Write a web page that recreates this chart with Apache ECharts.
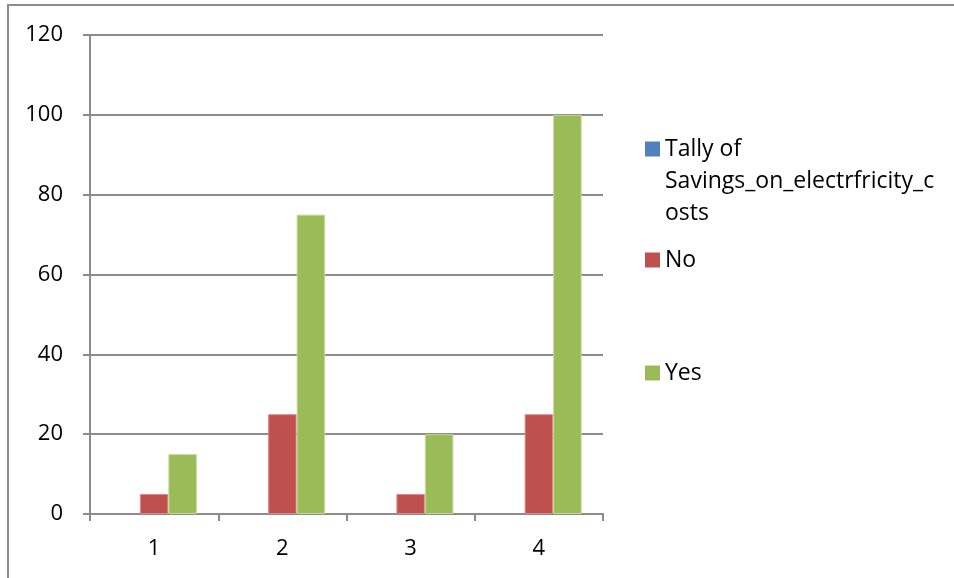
<!DOCTYPE html>
<html>
<head>
<meta charset="utf-8">
<script src="https://cdn.jsdelivr.net/npm/echarts@6/dist/echarts.min.js"></script>
<style>
  html, body { margin: 0; padding: 0; background: #fff; }
  #chart { width: 954px; height: 578px; }
</style>
</head>
<body>
<div id="chart"></div>
<script>
// Survey tally by group
const categories = ['1', '2', '3', '4'];
const tallyValues = [null, null, null, null];
const noValues = [5, 25, 5, 25];
const yesValues = [15, 75, 20, 100];
const yTicks = [0, 20, 40, 60, 80, 100, 120];

const seriesNames = ['Tally of\nSavings_on_electrfricity_c\nosts', 'No', 'Yes'];
const colors = ['#4F81BD', '#C0504D', '#9BBB59'];

const FONT = 'Open Sans';
const AXIS_FONT_SIZE = 22;
const LEGEND_FONT_SIZE = 23;
const axisGray = '#8c8c8c';

const chart = echarts.init(document.getElementById('chart'));

const legendText = { fontFamily: FONT, fontSize: LEGEND_FONT_SIZE, color: '#000', lineHeight: 32 };

chart.setOption({
  animation: false,
  backgroundColor: '#fff',
  color: colors,
  grid: { left: 90, right: 351, top: 35, bottom: 64, containLabel: false },
  graphic: [{
    type: 'rect',
    shape: { x: 8, y: 5, width: 1000, height: 700 },
    style: { fill: 'none', stroke: axisGray, lineWidth: 2 },
    silent: true
  }],
  legend: [
    {
      data: [{
        name: seriesNames[0],
        // square sits beside the first line of the wrapped label
        icon: 'path://M0,8.5h15v15h-15z M0,0h0.01v0.01h-0.01z M0,96h0.01v0.01h-0.01z'
      }],
      left: 645, top: 133, padding: 0, orient: 'vertical',
      itemWidth: 15, itemHeight: 96,
      itemStyle: { borderWidth: 0 },
      textStyle: legendText
    },
    {
      data: [{ name: seriesNames[1], icon: 'rect' }],
      left: 645, top: 244, padding: 0,
      itemWidth: 15, itemHeight: 15,
      itemStyle: { borderWidth: 0 },
      textStyle: legendText
    },
    {
      data: [{ name: seriesNames[2], icon: 'rect' }],
      left: 645, top: 357, padding: 0,
      itemWidth: 15, itemHeight: 15,
      itemStyle: { borderWidth: 0 },
      textStyle: legendText
    }
  ],
  xAxis: {
    type: 'category',
    data: categories,
    boundaryGap: true,
    axisLine: { lineStyle: { color: axisGray, width: 2 } },
    axisTick: { show: true, length: 7, alignWithLabel: false, lineStyle: { color: axisGray, width: 2 } },
    axisLabel: { margin: 24, fontFamily: FONT, fontSize: AXIS_FONT_SIZE, color: '#000' },
    splitLine: { show: false }
  },
  yAxis: {
    type: 'value',
    min: yTicks[0],
    max: yTicks[yTicks.length - 1],
    interval: yTicks[1] - yTicks[0],
    axisLine: { show: true, lineStyle: { color: axisGray, width: 2 } },
    axisTick: { show: true, length: 7, lineStyle: { color: axisGray, width: 2 } },
    axisLabel: { margin: 27, fontFamily: FONT, fontSize: AXIS_FONT_SIZE, color: '#000' },
    splitLine: { show: true, lineStyle: { color: axisGray, width: 2 } }
  },
  series: [
    { name: seriesNames[0], type: 'bar', data: tallyValues, barWidth: 28.5, barGap: '0%',
      itemStyle: { color: colors[0] } },
    { name: seriesNames[1], type: 'bar', data: noValues, barWidth: 28.5, barGap: '0%',
      itemStyle: { color: colors[1], borderColor: '#d98a88', borderWidth: 1 } },
    { name: seriesNames[2], type: 'bar', data: yesValues, barWidth: 28.5, barGap: '0%',
      itemStyle: { color: colors[2], borderColor: '#c2d99a', borderWidth: 1 } }
  ]
});
</script>
</body>
</html>
